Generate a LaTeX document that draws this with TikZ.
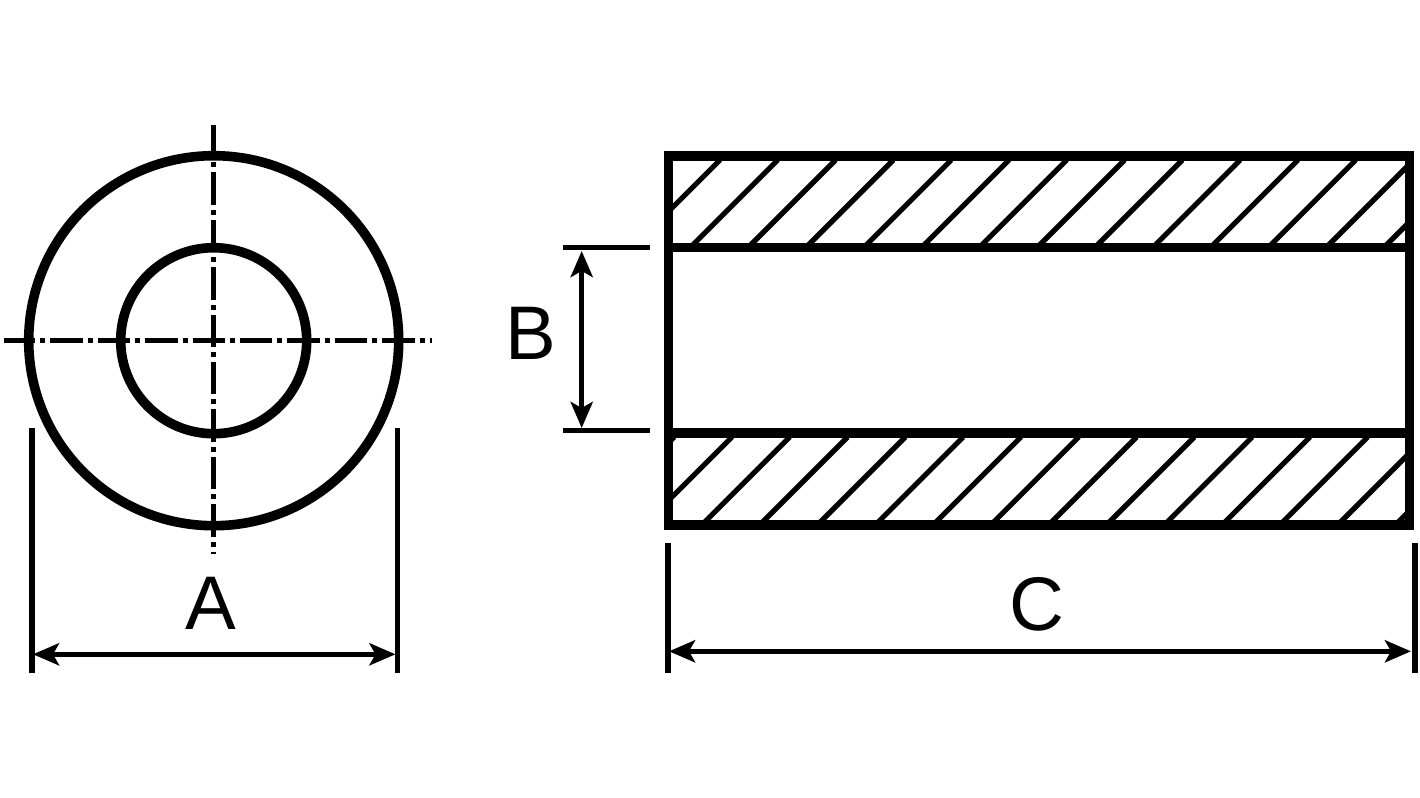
\documentclass[tikz,border=0pt]{standalone}
\usepackage{fontspec}
\setmainfont{Liberation Sans}
\usetikzlibrary{arrows.meta}

\tikzset{
  outline/.style={line width=4.8pt, black},
  hatching/.style={line width=2.6pt, black},
  centerline/.style={line width=2.5pt, black, dash pattern=on 16.2pt off 2.5pt on 2.5pt off 2.5pt},
  witness/.style={line width=2.6pt, black},
  dimline/.style={line width=2.5pt, black, <->},
  dimlabel/.style={inner sep=0pt, anchor=base, font=\fontsize{38pt}{38pt}\selectfont}
}

\begin{document}
\begin{tikzpicture}[x=.5pt, y=-.5pt, >={Stealth[length=13pt, width=11pt, inset=3pt]}]
  \useasboundingbox (0,0) rectangle (1420,798);

  % end view
  \coordinate (axis) at (213.7,340.7);
  \draw [outline] (axis) circle [radius=185];
  \draw [outline] (axis) circle [radius=93];
  \draw [centerline, dash phase=.5pt] (4,340.7) -- (432,340.7);
  \draw [centerline] (213.7,125) -- (213.7,554);

  % section, hatching first
  \begin{scope}
    \clip (668.3,156) rectangle (1409.5,247.5);
    \foreach \k in {0,...,13}
      \draw [hatching] ({720+57.8*\k},160) -- ({720+57.8*\k-100},260);
  \end{scope}
  \begin{scope}
    \clip (668.3,433) rectangle (1409.5,524.7);
    \foreach \k in {-1,...,13}
      \draw [hatching] ({732+57.8*\k},437) -- ({732+57.8*\k-100},537);
  \end{scope}
  \draw [outline] (668.3,156) rectangle (1409.5,524.7);
  \draw [outline] (668.3,247.5) -- (1409.5,247.5);
  \draw [outline] (668.3,433) -- (1409.5,433);

  % dimension A
  \draw [witness] (32,428) -- (32,672.5);
  \draw [witness] (397.3,428) -- (397.3,672.5);
  \coordinate (a1) at (33,654.3);
  \coordinate (a2) at (395.5,654.3);
  \draw [dimline] (a1) -- (a2);
  \node [dimlabel] (labelA) at (210.5,629) {A};

  % dimension B
  \draw [witness] (563,247.3) -- (650,247.3);
  \draw [witness] (563,430.7) -- (650,430.7);
  \coordinate (b1) at (581.7,251);
  \coordinate (b2) at (581.7,428);
  \draw [dimline] (b1) -- (b2);
  \node [dimlabel] (labelB) at (530.5,359) {B};

  % dimension C
  \draw [witness] (668,543) -- (668,672.5);
  \draw [witness] (1415,543) -- (1415,672.5);
  \coordinate (c1) at (669,651.3);
  \coordinate (c2) at (1411,651.3);
  \draw [dimline] (c1) -- (c2);
  \node [dimlabel] (labelC) at (1037,630.5) {C};
\end{tikzpicture}
\end{document}
